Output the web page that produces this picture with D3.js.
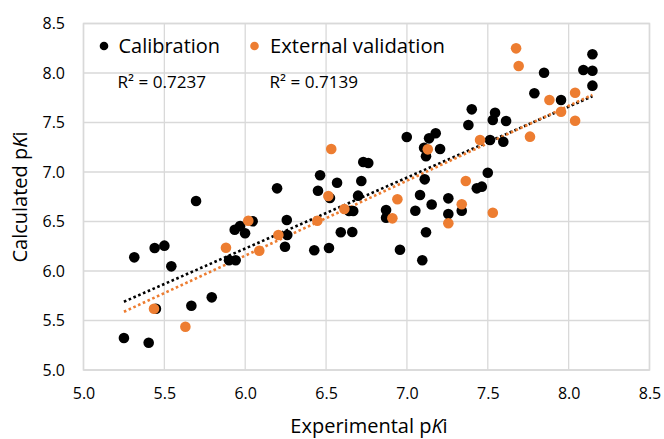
<!DOCTYPE html>
<html>
<head>
<meta charset="utf-8">
<script src="https://cdn.jsdelivr.net/npm/d3@7"></script>
<style>
  html, body { margin: 0; padding: 0; background: #fff; }
  svg { display: block; }
  text { font-family: "Open Sans", "Noto Sans", sans-serif; fill: #000; }
</style>
</head>
<body>
<svg id="chart" width="664" height="439"></svg>
<script>
// ---- Data ----
const calibX = [5.250,5.403,5.314,5.440,5.500,5.543,5.696,5.448,5.667,5.793,
                5.935,5.968,5.999,6.046,5.900,5.941,6.197,6.257,6.246,6.260,
                6.427,6.518,6.463,6.450,6.524,6.568,6.591,6.662,6.642,6.668,
                6.698,6.718,6.730,6.761,6.871,6.871,6.957,6.999,7.052,7.095,
                7.118,7.106,7.118,7.137,7.178,7.205,7.110,7.081,7.153,7.256,
                7.256,7.339,7.432,7.463,7.500,7.514,7.596,7.613,7.545,7.531,
                7.401,7.380,7.788,7.848,7.953,8.091,8.147,8.147,8.147];
const calibY = [5.323,5.276,6.138,6.232,6.256,6.047,6.707,5.619,5.649,5.734,
                6.417,6.455,6.381,6.502,6.108,6.108,6.835,6.515,6.245,6.364,
                6.209,6.232,6.967,6.811,6.737,6.892,6.391,6.394,6.606,6.606,
                6.761,6.909,7.101,7.091,6.616,6.538,6.215,7.354,6.609,6.108,
                6.391,7.245,7.159,7.340,7.391,7.232,6.926,6.768,6.672,6.734,
                6.576,6.609,6.835,6.852,6.993,7.323,7.306,7.515,7.599,7.525,
                7.633,7.475,7.795,8.003,7.727,8.030,8.023,8.189,7.872];
const extX = [5.436,5.630,5.881,6.019,6.087,6.205,6.446,6.514,6.532,6.613,
              6.910,6.941,7.129,7.256,7.339,7.364,7.452,7.531,7.761,7.675,
              7.691,7.881,7.953,8.040,8.040];
const extY = [5.619,5.437,6.235,6.508,6.205,6.364,6.508,6.758,7.232,6.626,
              6.532,6.724,7.229,6.482,6.674,6.909,7.323,6.589,7.357,8.249,
              8.071,7.727,7.609,7.801,7.518];
const seriesNames = ["Calibration", "External validation"];
const r2Labels = ["R\u00B2 = 0.7237", "R\u00B2 = 0.7139"];
const tickValues = [5.0,5.5,6.0,6.5,7.0,7.5,8.0,8.5];

// ---- Layout ----
const svg = d3.select("#chart");
const x = d3.scaleLinear().domain([5, 8.5]).range([83.5, 649.5]);
const y = d3.scaleLinear().domain([5, 8.5]).range([370, 23.5]);
const colors = ["#000000", "#ED7D31"];
const grid = "#d9d9d9";

// gridlines
svg.append("g").selectAll("line.v").data(tickValues).join("line")
  .attr("x1", d => x(d)).attr("x2", d => x(d))
  .attr("y1", y(8.5)).attr("y2", y(5))
  .attr("stroke", grid).attr("stroke-width", 1.3);
svg.append("g").selectAll("line.h").data(tickValues).join("line")
  .attr("y1", d => y(d)).attr("y2", d => y(d))
  .attr("x1", x(5)).attr("x2", x(8.5))
  .attr("stroke", grid).attr("stroke-width", 1.3);
svg.append("rect")
  .attr("x", x(5)).attr("y", y(8.5))
  .attr("width", x(8.5) - x(5)).attr("height", y(5) - y(8.5))
  .attr("fill", "none").attr("stroke", grid).attr("stroke-width", 1.5);

// axes (labels only)
const fmt = d3.format(".1f");
const yAxis = svg.append("g").attr("transform", `translate(${x(5)},0)`)
  .call(d3.axisLeft(y).tickValues(tickValues).tickFormat(fmt).tickSize(0).tickPadding(18.5));
const xAxis = svg.append("g").attr("transform", `translate(0,${y(5)})`)
  .call(d3.axisBottom(x).tickValues(tickValues).tickFormat(fmt).tickSize(0).tickPadding(18));
[yAxis, xAxis].forEach(a => {
  a.select(".domain").remove();
  a.selectAll("text").attr("font-size", 16).attr("font-family", "Open Sans").attr("fill", "#000");
});

// axis titles
const xt = svg.append("text").attr("x", 369).attr("y", 433)
  .attr("text-anchor", "middle").attr("font-size", 20);
xt.append("tspan").text("Experimental p");
xt.append("tspan").attr("font-style", "italic").text("K");
xt.append("tspan").text("i");
const yt = svg.append("text").attr("transform", "translate(27,197) rotate(-90)")
  .attr("text-anchor", "middle").attr("font-size", 20);
yt.append("tspan").text("Calculated p");
yt.append("tspan").attr("font-style", "italic").text("K");
yt.append("tspan").text("i");

// trendlines (least squares from the data)
function fit(xs, ys) {
  const mx = d3.mean(xs), my = d3.mean(ys);
  let sxy = 0, sxx = 0;
  xs.forEach((v, i) => { sxy += (v - mx) * (ys[i] - my); sxx += (v - mx) * (v - mx); });
  const b = sxy / sxx;
  return { b, a: my - b * mx };
}
const allX = calibX.concat(extX);
const [xmin, xmax] = d3.extent(allX);
const series = [
  { xs: calibX, ys: calibY },
  { xs: extX, ys: extY }
];
const line = d3.line().x(d => x(d[0])).y(d => y(d[1]));
series.forEach((s, k) => {
  const f = fit(s.xs, s.ys);
  svg.append("path")
    .attr("d", line([[xmin, f.a + f.b * xmin], [xmax, f.a + f.b * xmax]]))
    .attr("fill", "none").attr("stroke", colors[k])
    .attr("stroke-width", 2.6).attr("stroke-dasharray", "2.6,2.6");
});

// points
series.forEach((s, k) => {
  svg.append("g").selectAll("circle")
    .data(s.xs.map((v, i) => [v, s.ys[i]]))
    .join("circle")
    .attr("cx", d => x(d[0])).attr("cy", d => y(d[1]))
    .attr("r", 5.3).attr("fill", colors[k]);
});

// legend
const legX = [104, 254.5];
const legTextX = [118.5, 270];
const legW = [101.5, 175];
seriesNames.forEach((n, k) => {
  svg.append("circle").attr("cx", legX[k]).attr("cy", 46).attr("r", 4.3).attr("fill", colors[k]);
  svg.append("text").attr("x", legTextX[k]).attr("y", 53.3)
    .attr("font-size", 20).attr("textLength", legW[k]).attr("lengthAdjust", "spacingAndGlyphs")
    .text(n);
});
// R² labels
const r2X = [117.5, 269.5];
r2Labels.forEach((t, k) => {
  svg.append("text").attr("x", r2X[k]).attr("y", 88)
    .attr("font-size", 17).attr("textLength", 88.5).attr("lengthAdjust", "spacingAndGlyphs")
    .text(t);
});
</script>
</body>
</html>
